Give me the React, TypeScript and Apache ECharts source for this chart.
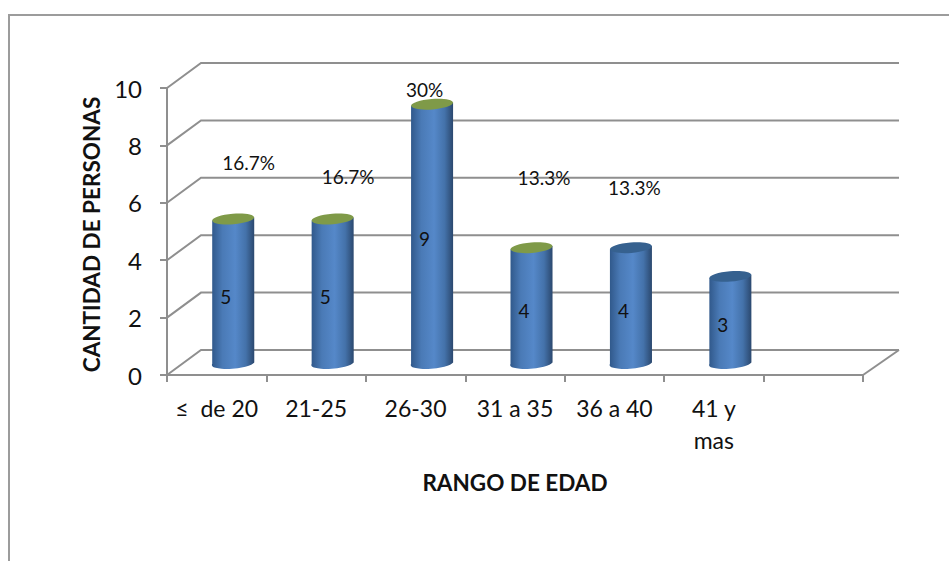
import React, { useEffect, useRef } from "react";
import * as echarts from "echarts";

// Age ranges (the last band of the axis is left empty) and people per range
const categories = ["≤  de 20", "21-25", "26-30", "31 a 35", "36 a 40", "41 y\nmas", ""];
const personas = [5, 5, 9, 4, 4, 3];
const porcentajes = ["16.7%", "16.7%", "30%", "13.3%", "13.3%", null];
const yTicks = [0, 2, 4, 6, 8, 10];
const capColors = ["#7f9a48", "#7f9a48", "#7f9a48", "#7f9a48", "#36618f", "#36618f"];

// Hand-placed percentage captions, relative to the band centre and the bar's top value
const percentOffsets = [
  [32, -69],
  [32, -55],
  [9, -27],
  [29, -83],
  [20, -73],
  [0, 0],
];

const FONT = "Lato, 'Noto Sans', sans-serif";
const GRID_COLOR = "#8f8f8f";
const DEPTH_X = 34;
const DEPTH_Y = 25;
const BAR_RX = 21;
const BAR_RY = 5.2;
const TILT_DEG = -4.5;

const sideGradient = () =>
  new echarts.graphic.LinearGradient(0, 0, 1, 0, [
    { offset: 0, color: "#30588a" },
    { offset: 0.25, color: "#4a7ab6" },
    { offset: 0.55, color: "#5588c9" },
    { offset: 0.8, color: "#4472aa" },
    { offset: 1, color: "#2b486e" },
  ]);

// Receding wall and floor lines for one y tick
const renderWall = (params: any, api: any) => {
  const sys = params.coordSys;
  const y = api.coord([0, api.value(0)])[1];
  const x0 = sys.x;
  const x1 = sys.x + sys.width;
  const back = y - DEPTH_Y;
  const style = { stroke: GRID_COLOR, lineWidth: 2, fill: "none" };
  const children: any[] = [
    {
      type: "polyline",
      shape: { points: [[x0, y], [x0 + DEPTH_X, back], [x1 + DEPTH_X + 2, back]] },
      style,
    },
  ];
  if (api.value(0) === 0) {
    children.push({
      type: "line",
      shape: { x1, y1: y, x2: x1 + DEPTH_X + 2, y2: back },
      style,
    });
  }
  return { type: "group", children };
};

// One cylinder with its cap and both captions
const renderCylinder = (params: any, api: any) => {
  const i = api.value(0);
  const v = api.value(1);
  const band = api.coord([i, 0])[0];
  const base = api.coord([i, 0])[1];
  const topY = api.coord([i, v])[1];
  const mid = api.coord([i, v / 2])[1];
  const cx = band + DEPTH_X / 2 - 0.5;
  const by = base - DEPTH_Y / 2;
  const ty = topY - DEPTH_Y / 2;
  const lift = 1.6;
  const l = cx - BAR_RX;
  const r = cx + BAR_RX;
  const d =
    `M${l} ${ty + lift}L${l} ${by + lift}` +
    `A${BAR_RX} ${BAR_RY} ${TILT_DEG} 0 0 ${r} ${by - lift}` +
    `L${r} ${ty - lift}L${l} ${ty + lift}Z`;
  const textStyle = { fill: "#111", font: `19px ${FONT}`, align: "center", verticalAlign: "middle" };
  const children: any[] = [
    { type: "path", shape: { pathData: d }, style: { fill: sideGradient() } },
    {
      type: "group",
      x: cx,
      y: ty,
      rotation: (-TILT_DEG * Math.PI) / 180,
      children: [
        { type: "ellipse", shape: { cx: 0, cy: 0, rx: BAR_RX, ry: BAR_RY }, style: { fill: capColors[i] } },
      ],
    },
    { type: "text", style: { ...textStyle, text: String(v), x: band + 9, y: mid - 7 } },
  ];
  const pct = porcentajes[i];
  if (pct) {
    const [ox, oy] = percentOffsets[i];
    children.push({ type: "text", style: { ...textStyle, text: pct, x: band + ox, y: topY + oy } });
  }
  return { type: "group", children };
};

export default function App() {
  const ref = useRef<HTMLDivElement>(null);

  useEffect(() => {
    document.body.style.margin = "0";
    const chart = echarts.init(ref.current!, null, { renderer: "svg" });
    chart.setOption({
      animation: false,
      backgroundColor: "#ffffff",
      textStyle: { fontFamily: FONT },
      grid: { left: 167, top: 88, width: 696, height: 287 },
      graphic: [
        {
          type: "polyline",
          silent: true,
          shape: { points: [[9, 561], [9, 15], [949, 15]] },
          style: { stroke: "#9c9c9c", lineWidth: 2, fill: "none" },
        },
      ],
      xAxis: {
        type: "category",
        data: categories,
        boundaryGap: true,
        name: "RANGO DE EDAD",
        nameLocation: "middle",
        nameGap: 96,
        nameTextStyle: { fontSize: 22.5, fontWeight: "bold", color: "#111", fontFamily: FONT },
        axisLine: { lineStyle: { color: GRID_COLOR, width: 2 } },
        axisTick: { show: true, length: 7, lineStyle: { color: GRID_COLOR, width: 2 } },
        axisLabel: { interval: 0, fontSize: 23, color: "#111", margin: 17, lineHeight: 32, fontFamily: FONT, verticalAlign: "top" },
      },
      yAxis: {
        type: "value",
        min: 0,
        max: 10,
        interval: 2,
        name: "CANTIDAD DE PERSONAS",
        nameLocation: "middle",
        nameGap: 64,
        nameTextStyle: { fontSize: 22.5, fontWeight: "bold", color: "#111", fontFamily: FONT, padding: [0, 0, 0, -6] },
        axisLine: { show: true, lineStyle: { color: GRID_COLOR, width: 2 } },
        axisTick: { show: true, length: 7, lineStyle: { color: GRID_COLOR, width: 2 } },
        axisLabel: { fontSize: 24, color: "#111", margin: 25, fontFamily: FONT },
        splitLine: { show: false },
      },
      series: [
        {
          type: "custom",
          coordinateSystem: "cartesian2d",
          clip: false,
          silent: true,
          z: 1,
          encode: { y: 0 },
          data: yTicks.map((t) => [t]),
          renderItem: renderWall,
        },
        {
          type: "custom",
          coordinateSystem: "cartesian2d",
          clip: false,
          silent: true,
          z: 3,
          encode: { x: 0, y: 1 },
          data: personas.map((v, i) => [i, v]),
          renderItem: renderCylinder,
        },
      ],
    });
    return () => chart.dispose();
  }, []);

  return <div ref={ref} style={{ width: 949, height: 561 }} />;
}
